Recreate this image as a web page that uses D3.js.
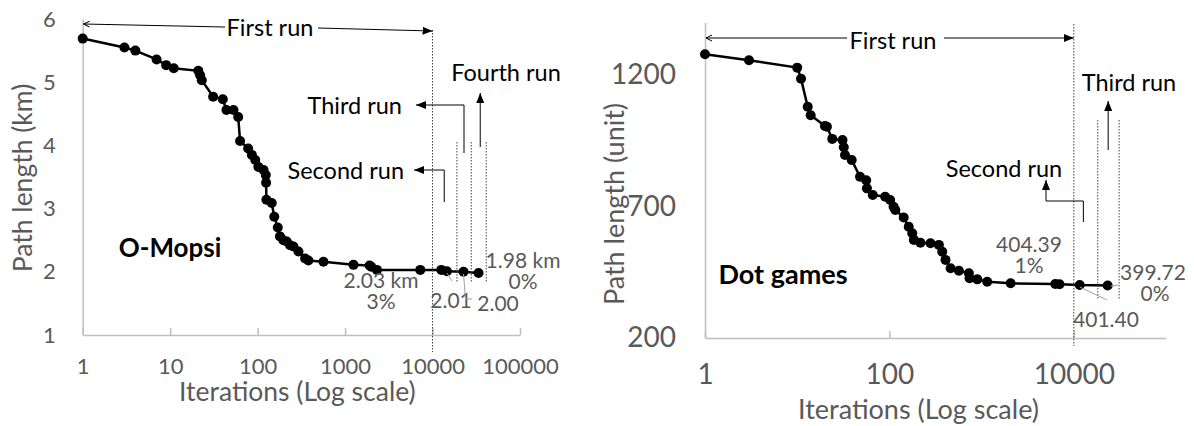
<!DOCTYPE html>
<html>
<head>
<meta charset="utf-8">
<script src="https://cdn.jsdelivr.net/npm/d3@7"></script>
<style>
  body { margin: 0; background: #fff; }
  svg { display: block; font-family: Lato, "Open Sans", sans-serif; }
</style>
</head>
<body>
<svg></svg>
<script>
const width = 1194,
  height = 426;

// O-Mopsi (left) : iterations and path length (km)
const omopsiIter = [1, 3, 4, 7, 9, 11, 21, 22, 23, 31, 40, 44, 53, 60, 63, 78, 86, 94, 102, 117,
  124, 125, 126, 145, 155, 170, 180, 197, 215, 235, 257, 293, 349, 381, 566, 1247, 1906, 1990,
  2311, 7240, 12600, 14600, 22600, 33600];
const omopsiLen = [5.69, 5.55, 5.50, 5.36, 5.27, 5.22, 5.18, 5.11, 5.03, 4.77, 4.73, 4.56, 4.56, 4.45,
  4.07, 3.95, 3.85, 3.77, 3.66, 3.61, 3.53, 3.41, 3.14, 3.09, 2.87, 2.70, 2.56, 2.50, 2.48, 2.42,
  2.40, 2.32, 2.21, 2.18, 2.16, 2.11, 2.10, 2.08, 2.03, 2.03, 2.03, 2.01, 2.00, 1.98];

// Dot games (right) : iterations and path length (unit)
const dotIter = [1, 3, 10, 11, 13, 14, 20, 21, 24, 31, 32, 33, 39, 48, 56, 57, 66, 90, 102, 111,
  116, 143, 162, 177, 184, 217, 279, 344, 374, 406, 461, 567, 728, 740, 898, 1150, 2065, 6300,
  7000, 11600, 23300];
const dotLen = [1279, 1256, 1228, 1186, 1079, 1047, 1006, 1003, 957, 953, 925, 896, 877, 813, 800,
  769, 744, 737, 725, 699, 687, 658, 623, 598, 573, 562, 560, 554, 528, 497, 465, 456, 446, 427,
  423, 414, 408, 405, 404.39, 401.4, 399.72];

// tick labels
const omopsiXTicks = [1, 10, 100, 1000, 10000, 100000];
const omopsiYTicks = [1, 2, 3, 4, 5, 6];
const dotXTicks = [1, 100, 10000];
const dotYTicks = [200, 700, 1200];

// run boundaries (iterations)
const omopsiRuns = [10000, 19000, 27700, 41100];
const dotRuns = [10000, 18200, 31000];

const gray = "#595959",
  axisCol = "#bfbfbf",
  runSize = 23.5,
  valSize = 21;

const svg = d3.select("svg")
  .attr("width", width)
  .attr("height", height);

const defs = svg.append("defs");

defs.append("marker")
  .attr("id", "fillArrow")
  .attr("markerUnits", "userSpaceOnUse")
  .attr("markerWidth", 10)
  .attr("markerHeight", 8)
  .attr("refX", 10)
  .attr("refY", 4)
  .attr("orient", "auto")
  .append("path")
  .attr("d", "M0,0L10,4L0,8Z")
  .attr("fill", "#000");

defs.append("marker")
  .attr("id", "openArrow")
  .attr("markerUnits", "userSpaceOnUse")
  .attr("markerWidth", 8)
  .attr("markerHeight", 8)
  .attr("refX", 7)
  .attr("refY", 4)
  .attr("orient", "auto")
  .append("path")
  .attr("d", "M1,1L7,4L1,7")
  .attr("fill", "none")
  .attr("stroke", "#000")
  .attr("stroke-width", 1);

function text(x, y, s, opt) {
  opt = opt || {};
  return svg.append("text")
    .attr("x", x)
    .attr("y", y)
    .attr("dominant-baseline", "central")
    .attr("text-anchor", opt.anchor || "middle")
    .attr("font-size", opt.size || valSize)
    .attr("font-weight", opt.bold ? "bold" : null)
    .attr("fill", opt.color || gray)
    .text(s);
}

// two-line value label (value + gap)
function text2(x, y, a, b, dx2) {
  const t = svg.append("text")
    .attr("text-anchor", "middle")
    .attr("font-size", valSize)
    .attr("fill", gray);
  t.append("tspan").attr("x", x).attr("y", y + 7).text(a);
  t.append("tspan").attr("x", x + (dx2 || 0)).attr("y", y + 28).text(b);
  return t;
}

function poly(pts, opt) {
  opt = opt || {};
  return svg.append("path")
    .attr("d", d3.line()(pts))
    .attr("fill", "none")
    .attr("stroke", opt.color || "#000")
    .attr("stroke-width", opt.w || 1)
    .attr("stroke-dasharray", opt.dash || null)
    .attr("marker-end", opt.marker ? "url(#" + opt.marker + ")" : null);
}

function drawChart(c) {
  const x = d3.scaleLog().domain([1, 100000]).range(c.xr);
  const y = d3.scaleLinear().domain(c.yd).range(c.yr);

  // x axis
  const gx = svg.append("g")
    .attr("transform", "translate(0," + c.yr[0] + ")")
    .call(d3.axisBottom(x)
      .tickValues(c.xTicks)
      .tickFormat(d3.format("d"))
      .tickSizeInner(-7)
      .tickSizeOuter(0)
      .tickPadding(c.xPad));
  gx.attr("font-family", null);
  gx.select(".domain").attr("stroke", axisCol).attr("stroke-width", 1.5);
  gx.selectAll(".tick line").attr("stroke", axisCol).attr("stroke-width", 1.5);
  gx.selectAll(".tick text").attr("fill", gray).attr("font-size", c.tickSize);

  // y axis
  const gy = svg.append("g")
    .attr("transform", "translate(" + c.xr[0] + ",0)")
    .call(d3.axisLeft(y)
      .tickValues(c.yTicks)
      .tickFormat(d3.format("d"))
      .tickSize(0)
      .tickPadding(c.yPad));
  gy.attr("font-family", null);
  gy.select(".domain").attr("stroke", axisCol).attr("stroke-width", 1.5);
  gy.selectAll(".tick text").attr("fill", gray).attr("font-size", c.tickSize);

  // axis titles
  text(d3.mean(c.xr) + c.xtOff, c.xtY, "Iterations (Log scale)", {size: c.titleSize});
  svg.append("text")
    .attr("transform", "translate(" + c.ytX + "," + c.ytY + ") rotate(-90)")
    .attr("text-anchor", "middle")
    .attr("dominant-baseline", "central")
    .attr("font-size", c.titleSize)
    .attr("fill", gray)
    .text(c.yTitle);

  // data
  const pts = c.iter.map((d, i) => [x(d), y(c.len[i])]);
  svg.append("path")
    .attr("d", d3.line()(pts))
    .attr("fill", "none")
    .attr("stroke", "#000")
    .attr("stroke-width", 2.5);
  svg.append("g").selectAll("circle")
    .data(pts)
    .join("circle")
    .attr("cx", d => d[0])
    .attr("cy", d => d[1])
    .attr("r", 5)
    .attr("fill", "#000");

  return {x, y};
}

// ---------- left chart: O-Mopsi ----------
const L = drawChart({
  xr: [82.7, 520], yd: [1, 6], yr: [335, 19],
  xTicks: omopsiXTicks, yTicks: omopsiYTicks,
  xPad: 23, yPad: 27, tickSize: 22, titleSize: 26.5,
  xtOff: -4, xtY: 391, ytX: 22, ytY: 178, yTitle: "Path length (km)",
  iter: omopsiIter, len: omopsiLen
});

// run separators
omopsiRuns.forEach((r, i) => {
  poly([[L.x(r), i ? 142 : 30], [L.x(r), i ? 283 : 352]],
    {color: "#404040", dash: "1.5,1.5"});
});

// First run
text(270, 27, "First run", {color: "#000", size: runSize});
poly([[225, 27], [L.x(1) + 1, 24]], {marker: "openArrow"});
poly([[318, 28], [L.x(10000), 31]], {marker: "fillArrow"});

// Second run
text(404, 170, "Second run", {color: "#000", size: runSize, anchor: "end"});
poly([[L.x(13600), 202], [L.x(13600), 170], [414, 170]], {marker: "fillArrow"});
// Third run
text(402, 105, "Third run", {color: "#000", size: runSize, anchor: "end"});
poly([[L.x(22900), 153], [L.x(22900), 105], [416, 105]], {marker: "fillArrow"});
// Fourth run
text(506, 72, "Fourth run", {color: "#000", size: runSize});
poly([[L.x(35100), 147], [L.x(35100), 93]], {marker: "fillArrow"});

text(170, 247, "O-Mopsi", {color: "#000", size: 26, bold: true});

// value labels
text2(381, 281, "2.03 km", "3%");
text(451, 299, "2.01");
text(498, 302, "2.00");
text2(523, 261, "1.98 km", "0%");
poly([[L.x(14600), 273], [452, 281]], {color: "#a0a0a0"});
poly([[L.x(22600), 274], [465.5, 299], [472, 299]], {color: "#a0a0a0"});

// ---------- right chart: Dot games ----------
const R = drawChart({
  xr: [705, 1166], yd: [200, 1400], yr: [338, 22.4],
  xTicks: dotXTicks, yTicks: dotYTicks,
  xPad: 26, yPad: 29, tickSize: 28, titleSize: 27,
  xtOff: -17, xtY: 408, ytX: 613, ytY: 204, yTitle: "Path length (unit)",
  iter: dotIter, len: dotLen
});

dotRuns.forEach((r, i) => {
  poly([[R.x(r), i ? 120 : 24], [R.x(r), i ? 300 : 346]],
    {color: "#404040", dash: "1.5,1.5"});
});

text(893, 40, "First run", {color: "#000", size: runSize});
poly([[847, 38], [R.x(1) + 1, 38]], {marker: "openArrow"});
poly([[944, 38], [R.x(10000), 38]], {marker: "fillArrow"});

text(1004, 168, "Second run", {color: "#000", size: runSize});
poly([[R.x(12700), 222], [R.x(12700), 201], [1046, 201], [1046, 180]], {marker: "fillArrow"});

text(1129, 82, "Third run", {color: "#000", size: runSize});
poly([[R.x(23600), 150], [R.x(23600), 101]], {marker: "fillArrow"});

text(783, 273, "Dot games", {color: "#000", size: 27, bold: true});

text2(1029, 245, "404.39", "1%");
text(1106, 318, "401.40");
text2(1153, 273, "399.72", "0%", 2);
poly([[R.x(11600), 287], [1107, 300]], {color: "#a0a0a0"});
poly([[R.x(23300) + 3, 286], [1118, 285]], {color: "#a0a0a0"});
</script>
</body>
</html>
